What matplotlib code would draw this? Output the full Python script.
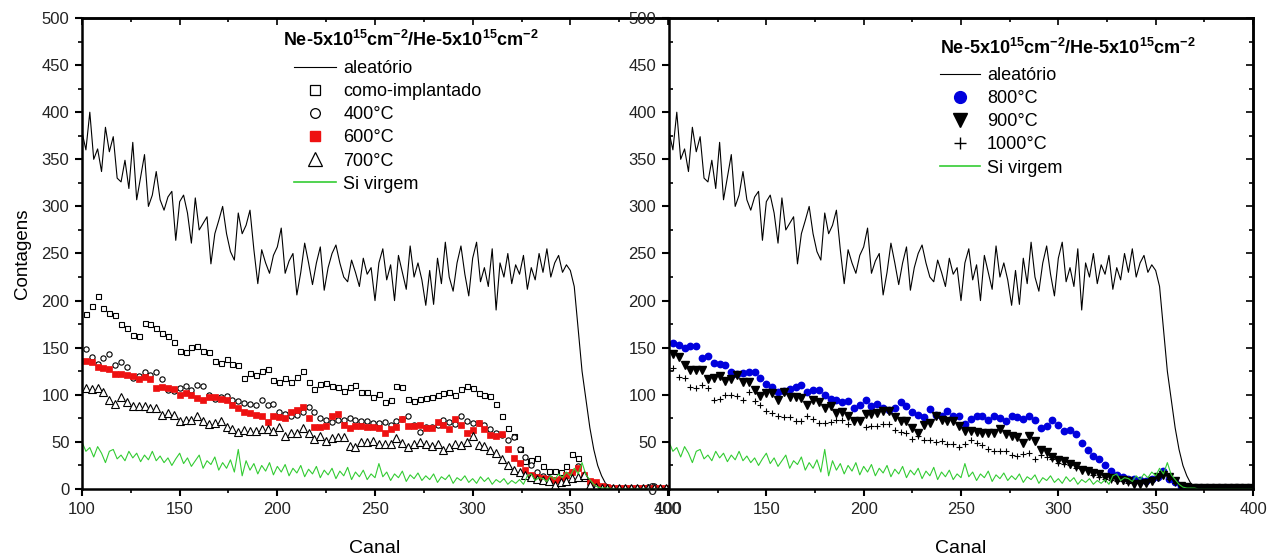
import matplotlib
matplotlib.use('Agg')
import matplotlib.pyplot as plt
import numpy as np
from matplotlib.ticker import MultipleLocator
from matplotlib.lines import Line2D

plt.rcParams['font.family'] = ['Liberation Sans', 'DejaVu Sans']
plt.rcParams['mathtext.fontset'] = 'custom'
plt.rcParams['mathtext.rm'] = 'Liberation Sans'
plt.rcParams['mathtext.bf'] = 'Liberation Sans:bold'
plt.rcParams['mathtext.default'] = 'bf'

# random (aleatorio) spectrum, channels 100..400 step 2
aleatorio = [379, 360, 400, 350, 361, 337, 384, 358, 374, 330,
             326, 349, 319, 368, 307, 331, 355, 300, 312, 337,
             307, 296, 310, 316, 264, 305, 312, 293, 261, 309,
             275, 282, 289, 239, 271, 285, 300, 271, 252, 243,
             293, 271, 280, 296, 254, 218, 254, 240, 229, 248,
             257, 277, 229, 242, 250, 206, 230, 261, 240, 217,
             240, 257, 211, 235, 250, 259, 240, 225, 220, 243,
             230, 215, 245, 228, 235, 200, 240, 255, 222, 238,
             200, 248, 230, 212, 258, 225, 240, 222, 195, 232,
             196, 245, 218, 262, 225, 210, 240, 258, 228, 205,
             245, 262, 220, 235, 215, 255, 190, 240, 225, 250,
             218, 238, 228, 248, 212, 235, 222, 250, 230, 255,
             225, 240, 248, 230, 238, 232, 215, 170, 125, 95,
             65, 42, 25, 14, 6, 3, 2, 2, 1, 1,
             1, 1, 1, 1, 1, 1, 1, 1, 1, 1,
             1]

# virgin Si spectrum, channels 100..400 step 2
si_virgem = [50, 40, 44, 34, 45, 38, 28, 40, 42, 32,
             36, 30, 40, 33, 38, 29, 36, 31, 40, 30,
             35, 28, 33, 25, 32, 38, 27, 33, 24, 30,
             36, 22, 30, 26, 34, 20, 28, 22, 31, 18,
             42, 14, 30, 20, 27, 16, 25, 19, 28, 15,
             24, 18, 26, 14, 22, 17, 25, 13, 21, 16,
             24, 12, 20, 15, 22, 11, 19, 14, 23, 10,
             18, 13, 20, 10, 16, 12, 27, 13, 18, 9,
             16, 12, 19, 8, 15, 11, 17, 9, 14, 10,
             16, 7, 13, 10, 15, 6, 12, 9, 14, 7,
             11, 6, 13, 8, 12, 5, 10, 7, 11, 5,
             9, 6, 10, 5, 14, 16, 9, 12, 11, 8,
             14, 10, 16, 12, 18, 14, 22, 16, 28, 15,
             10, 5, 2, 1, 1, 1, 0, 0, 0, 0,
             0, 0, 0, 0, 0, 0, 0, 0, 0, 0,
             0]

ch_line = np.arange(100, 100 + 2 * len(aleatorio), 2)
ch_si = np.arange(100, 100 + 2 * len(si_virgem), 2)

# implanted / annealed spectra, channels 102..399 step 3
como_implantado = [186, 194, 205, 192, 187, 185, 175, 171, 164, 162,
                   176, 175, 171, 166, 162, 156, 146, 145, 151, 152,
                   147, 145, 136, 134, 138, 133, 132, 118, 123, 121,
                   125, 127, 116, 114, 118, 114, 119, 125, 114, 106,
                   111, 112, 109, 108, 104, 108, 110, 103, 103, 98,
                   101, 92, 94, 109, 108, 96, 93, 96, 97, 98,
                   100, 102, 103, 100, 106, 109, 107, 102, 100, 99,
                   90, 78, 65, 56, 42, 30, 31, 33, 24, 19,
                   19, 18, 24, 37, 33, 12, 8, 5, 3, 2,
                   1, 1, 1, 1, 1, 1, 1, 1, 1, 1]
t400 = [149, 140, 133, 139, 143, 132, 135, 129, 118, 120,
        124, 121, 124, 117, 105, 104, 107, 109, 105, 110,
        109, 100, 96, 98, 99, 95, 93, 91, 90, 89,
        95, 89, 90, 82, 80, 78, 79, 82, 87, 82,
        75, 73, 71, 73, 73, 75, 73, 72, 72, 70,
        70, 71, 68, 72, 74, 78, 68, 61, 66, 66,
        68, 73, 71, 69, 78, 72, 70, 70, 68, 64,
        59, 57, 52, 55, 42, 34, 25, 18, 14, 12,
        10, 10, 14, 18, 24, 14, 5, 3, 2, 2,
        1, 1, 1, 1, 1, 1, 2, 3, 1, 1]
t600 = [136, 135, 130, 128, 127, 122, 122, 121, 120, 117,
        119, 117, 107, 108, 107, 106, 100, 102, 100, 97,
        95, 98, 98, 96, 94, 89, 86, 82, 81, 79,
        77, 71, 78, 76, 75, 82, 84, 87, 75, 66,
        66, 67, 78, 80, 68, 65, 67, 67, 66, 66,
        65, 59, 64, 66, 74, 67, 67, 68, 65, 65,
        71, 68, 64, 74, 68, 59, 63, 70, 64, 57,
        56, 58, 42, 33, 28, 20, 15, 13, 12, 11,
        10, 11, 15, 18, 22, 15, 9, 7, 3, 2,
        1, 1, 1, 1, 1, 1, 1, 1, 1, 1]
t700 = [107, 106, 107, 103, 95, 90, 98, 92, 88, 88,
        88, 86, 86, 79, 81, 79, 72, 73, 73, 77,
        72, 69, 70, 72, 66, 64, 61, 63, 62, 62,
        64, 64, 62, 66, 56, 59, 59, 65, 59, 53,
        56, 51, 54, 55, 55, 46, 45, 50, 50, 51,
        48, 48, 48, 54, 49, 45, 48, 50, 48, 46,
        48, 41, 45, 48, 47, 50, 56, 47, 46, 41,
        38, 32, 26, 20, 18, 15, 13, 11, 10, 8,
        4, 7, 8, 12, 13, 15, 4, 2, 1, 1,
        1, 1, 1, 1, 1, 1, 1, 1, 1, 1]
t800 = [155, 153, 150, 152, 152, 139, 141, 134, 133, 132,
        124, 122, 123, 124, 124, 118, 111, 108, 103, 104,
        106, 108, 110, 103, 105, 105, 100, 96, 94, 92,
        93, 86, 89, 94, 88, 90, 86, 84, 86, 92,
        88, 82, 79, 76, 85, 79, 78, 83, 78, 78,
        69, 74, 77, 77, 73, 78, 75, 72, 78, 76,
        74, 78, 73, 65, 67, 73, 68, 62, 63, 58,
        49, 41, 35, 32, 26, 19, 15, 13, 11, 11,
        10, 9, 11, 13, 19, 11, 7, 3, 2, 1,
        1, 1, 1, 1, 1, 1, 1, 1, 1, 1]
t900 = [143, 140, 132, 126, 126, 126, 117, 118, 120, 115,
        117, 121, 114, 114, 105, 99, 102, 102, 95, 103,
        98, 98, 97, 89, 95, 92, 86, 88, 81, 82,
        78, 72, 72, 80, 80, 81, 83, 83, 76, 72,
        72, 65, 59, 68, 70, 78, 73, 72, 72, 67,
        62, 62, 61, 59, 59, 59, 64, 58, 56, 55,
        49, 56, 51, 41, 39, 34, 31, 30, 27, 24,
        20, 19, 17, 16, 13, 12, 10, 10, 8, 5,
        5, 6, 8, 13, 15, 13, 8, 3, 2, 1,
        1, 1, 1, 1, 1, 1, 1, 1, 1, 1]
t1000 = [128, 119, 118, 108, 107, 110, 107, 95, 96, 100,
         100, 99, 94, 103, 93, 89, 83, 81, 77, 76,
         76, 72, 72, 77, 74, 70, 70, 71, 73, 73,
         69, 73, 73, 66, 67, 67, 69, 69, 63, 61,
         59, 53, 56, 52, 52, 50, 51, 48, 48, 45,
         48, 52, 49, 47, 42, 40, 40, 40, 36, 35,
         37, 38, 32, 36, 34, 32, 28, 27, 25, 22,
         21, 20, 15, 13, 11, 10, 9, 8, 6, 6,
         6, 7, 9, 13, 15, 11, 6, 3, 1, 1,
         1, 1, 1, 1, 1, 1, 1, 1, 1, 1]
ch_pts = np.arange(102, 102 + 3 * len(como_implantado), 3)

title = r'Ne-5x10$^{15}$cm$^{-2}$/He-5x10$^{15}$cm$^{-2}$'
green = '#33cc33'
W, H = 1277, 556


def style_axes(ax, minor_in=False):
    ax.set_xlim(100, 400)
    ax.set_ylim(0, 500)
    ax.xaxis.set_major_locator(MultipleLocator(50))
    ax.xaxis.set_minor_locator(MultipleLocator(25))
    ax.yaxis.set_major_locator(MultipleLocator(50))
    ax.yaxis.set_minor_locator(MultipleLocator(25))
    ax.tick_params(which='major', direction='out', length=5, width=1.5,
                   labelsize=12, labelcolor='#222222', pad=4)
    ax.tick_params(which='minor', direction='out', length=3, width=1.2)
    if minor_in:
        ax.tick_params(axis='y', which='minor', direction='in')
    for s in ax.spines.values():
        s.set_linewidth(1.8)
    top = ax.secondary_xaxis('top')
    top.xaxis.set_major_locator(MultipleLocator(50))
    top.xaxis.set_minor_locator(MultipleLocator(25))
    top.tick_params(which='both', direction='in', labeltop=False, width=1.2)
    top.tick_params(which='major', length=5)
    top.tick_params(which='minor', length=3)
    top.spines['top'].set_linewidth(1.8)
    ax.set_xlabel('Canal', fontsize=14, labelpad=17)


fig = plt.figure(figsize=(12.77, 5.56), dpi=100)
ax1 = fig.add_axes([82 / W, 1 - 489 / H, 586 / W, 471 / H])
ax2 = fig.add_axes([669 / W, 1 - 489 / H, 584 / W, 471 / H])

# left panel
ax1.plot(ch_line, aleatorio, color='black', lw=0.8)
ax1.plot(ch_pts, como_implantado, ls='none', marker='s', ms=3.6, mfc='white', mec='black', mew=0.8)
ax1.plot(ch_pts, t400, ls='none', marker='o', ms=3.8, mfc='white', mec='black', mew=0.8)
ax1.plot(ch_pts, t600, ls='none', marker='s', ms=4.3, mfc='#ee1111', mec='#ee1111', mew=0.5)
ax1.plot(ch_pts, t700, ls='none', marker='^', ms=5.2, mfc='white', mec='black', mew=0.8)
ax1.plot(ch_si, si_virgem, color=green, lw=0.8)
style_axes(ax1)
ax1.spines['right'].set_visible(False)
ax1.set_ylabel('Contagens', fontsize=13.5, labelpad=8)

fig.text(283 / W, 1 - 40 / H, title, fontsize=13, fontweight='bold', ha='left', va='center')
h1 = [Line2D([], [], color='black', lw=0.8),
      Line2D([], [], ls='none', marker='s', ms=7, mfc='white', mec='black', mew=0.9),
      Line2D([], [], ls='none', marker='o', ms=7, mfc='white', mec='black', mew=0.9),
      Line2D([], [], ls='none', marker='s', ms=7, mfc='#ee1111', mec='#ee1111'),
      Line2D([], [], ls='none', marker='^', ms=9.5, mfc='white', mec='black', mew=0.9),
      Line2D([], [], color=green, lw=1.2)]
l1 = ['aleatório', 'como-implantado', '400°C', '600°C', '700°C', 'Si virgem']
ax1.legend(h1, l1, loc='upper left', bbox_to_anchor=(294 / W, 1 - 60 / H),
           bbox_transform=fig.transFigure, frameon=False, fontsize=13,
           handlelength=2.33, handletextpad=0.4, labelspacing=0.34,
           borderaxespad=0, borderpad=0, numpoints=1)

# right panel
ax2.plot(ch_line, aleatorio, color='black', lw=0.8)
ax2.plot(ch_pts, t800, ls='none', marker='o', ms=4.6, mfc='#0000dd', mec='#0000dd')
ax2.plot(ch_pts, t900, ls='none', marker='v', ms=5.6, mfc='black', mec='black')
ax2.plot(ch_pts, t1000, ls='none', marker='+', ms=5, mec='black', mew=0.8)
ax2.plot(ch_si, si_virgem, color=green, lw=0.8)
style_axes(ax2, minor_in=True)
right = ax2.secondary_yaxis('right')
right.yaxis.set_major_locator(MultipleLocator(50))
right.yaxis.set_minor_locator(MultipleLocator(25))
right.tick_params(which='both', direction='in', labelright=False, width=1.2)
right.tick_params(which='major', length=5)
right.tick_params(which='minor', length=3)
right.spines['right'].set_linewidth(1.8)

fig.text(940 / W, 1 - 48 / H, title, fontsize=13, fontweight='bold', ha='left', va='center')
h2 = [Line2D([], [], color='black', lw=0.8),
      Line2D([], [], ls='none', marker='o', ms=8.5, mfc='#0000dd', mec='#0000dd'),
      Line2D([], [], ls='none', marker='v', ms=10, mfc='black', mec='black'),
      Line2D([], [], ls='none', marker='+', ms=8, mec='black', mew=1.0),
      Line2D([], [], color=green, lw=1.2)]
l2 = ['aleatório', '800°C', '900°C', '1000°C', 'Si virgem']
ax2.legend(h2, l2, loc='upper left', bbox_to_anchor=(940 / W, 1 - 67 / H),
           bbox_transform=fig.transFigure, frameon=False, fontsize=13,
           handlelength=2.2, handletextpad=0.4, labelspacing=0.34,
           borderaxespad=0, borderpad=0, numpoints=1)

fig.savefig('out.png', dpi=100)
